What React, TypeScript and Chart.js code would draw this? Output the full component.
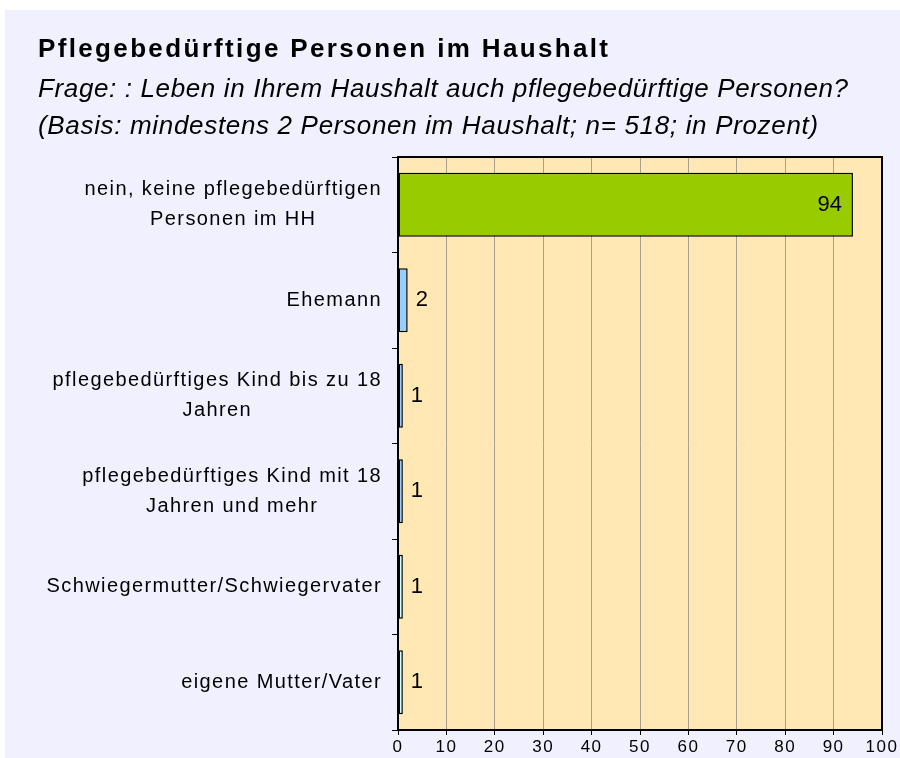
import React, { useEffect, useRef } from "react";
import { Chart, registerables } from "chart.js";

Chart.register(...registerables);

const titleText = "Pflegebedürftige Personen im Haushalt";
const subtitleLines = [
  "Frage: : Leben in Ihrem Haushalt auch pflegebedürftige Personen?",
  "(Basis: mindestens 2 Personen im Haushalt; n= 518; in Prozent)",
];

const categories: string[][] = [
  ["nein, keine pflegebedürftigen", "Personen im HH"],
  ["Ehemann"],
  ["pflegebedürftiges Kind bis zu 18", "Jahren"],
  ["pflegebedürftiges Kind mit 18", "Jahren und mehr"],
  ["Schwiegermutter/Schwiegervater"],
  ["eigene Mutter/Vater"],
];
const values = [94, 2, 1, 1, 1, 1];
const barColors = ["#99CC00", "#99CCFF", "#99CCFF", "#99CCFF", "#CCFFFF", "#CCFFFF"];
const xMin = 0;
const xMax = 100;
const xStep = 10;

const FONT = '"Liberation Sans", Arial, sans-serif';

function drawFitted(ctx: CanvasRenderingContext2D, text: string, x: number, y: number, font: string, width: number) {
  ctx.font = font;
  ctx.letterSpacing = "0px";
  const w0 = ctx.measureText(text).width;
  const sp = (width - w0) / Math.max(1, text.length - 1);
  ctx.letterSpacing = sp.toFixed(2) + "px";
  ctx.fillText(text, x, y);
  ctx.letterSpacing = "0px";
}

const decoPlugin = {
  id: "deco",
  beforeDraw(chart: any) {
    const ctx: CanvasRenderingContext2D = chart.ctx;
    const { width, height } = chart;
    ctx.save();
    ctx.fillStyle = "#ffffff";
    ctx.fillRect(0, 0, width, height);
    ctx.fillStyle = "#F0F0FF";
    ctx.fillRect(5, 10, width - 5, height - 10);
    const a = chart.chartArea;
    ctx.fillStyle = "#FFE8B3";
    ctx.fillRect(a.left, a.top, a.right - a.left, a.bottom - a.top);
    ctx.restore();
    ctx.letterSpacing = "1.5px";
  },
  afterDatasetsDraw(chart: any) {
    const ctx: CanvasRenderingContext2D = chart.ctx;
    const a = chart.chartArea;
    ctx.save();
    ctx.strokeStyle = "#000";
    ctx.lineWidth = 2;
    ctx.strokeRect(a.left, a.top, a.right - a.left, a.bottom - a.top);
    // value labels
    const meta = chart.getDatasetMeta(0);
    ctx.font = "22px " + FONT;
    ctx.fillStyle = "#000";
    ctx.textBaseline = "middle";
    ctx.letterSpacing = "0px";
    meta.data.forEach((bar: any, i: number) => {
      const v = values[i];
      if (v > 50) {
        ctx.textAlign = "right";
        ctx.fillText(String(v), bar.x - 11, bar.y);
      } else {
        ctx.textAlign = "left";
        ctx.fillText(String(v), bar.x + 8, bar.y);
      }
    });
    ctx.restore();
  },
  afterDraw(chart: any) {
    const ctx: CanvasRenderingContext2D = chart.ctx;
    ctx.save();
    ctx.fillStyle = "#000";
    ctx.textAlign = "left";
    ctx.textBaseline = "alphabetic";
    drawFitted(ctx, titleText, 38, 57, "bold 26px " + FONT, 570);
    drawFitted(ctx, subtitleLines[0], 38, 97, "italic 26px " + FONT, 810);
    drawFitted(ctx, subtitleLines[1], 38, 134, "italic 26px " + FONT, 780);

    // category labels
    const yScale = chart.scales.y;
    ctx.font = "20px " + FONT;
    ctx.letterSpacing = "1.4px";
    ctx.textAlign = "center";
    ctx.textBaseline = "middle";
    const rightEdge = yScale.right - 16;
    const lh = 30;
    categories.forEach((lines, i) => {
      const maxW = Math.max(...lines.map((l) => ctx.measureText(l).width));
      const cx = rightEdge - maxW / 2;
      const cy = yScale.getPixelForValue(i);
      lines.forEach((l, j) => {
        ctx.fillText(l, cx, cy - ((lines.length - 1) * lh) / 2 + j * lh);
      });
    });
    ctx.letterSpacing = "0px";
    ctx.restore();
  },
};

export default function App() {
  const ref = useRef<HTMLCanvasElement>(null);
  useEffect(() => {
    document.body.style.margin = "0";
    const canvas = ref.current!;
    const chart = new Chart(canvas, {
      type: "bar",
      data: {
        labels: categories.map((c) => c.join(" ")),
        datasets: [
          {
            data: values,
            backgroundColor: barColors,
            borderColor: "#000",
            borderWidth: 1.5,
            borderSkipped: false,
            barPercentage: 0.67,
            categoryPercentage: 1,
          },
        ],
      },
      options: {
        indexAxis: "y",
        animation: false,
        responsive: false,
        devicePixelRatio: 1,
        layout: { padding: { top: 157, right: 18, left: 0, bottom: 0 } },
        plugins: {
          legend: { display: false },
          tooltip: { enabled: false },
          title: { display: false },
        },
        scales: {
          x: {
            type: "linear",
            min: xMin,
            max: xMax,
            ticks: {
              stepSize: xStep,
              color: "#000",
              font: { family: FONT, size: 17 },
              padding: 2,
            },
            grid: {
              color: "#A8A090",
              lineWidth: 1,
              tickColor: "#000",
              tickLength: 5,
            },
            border: { display: false },
            afterFit: (s: any) => {
              s.height = 28;
            },
          },
          y: {
            type: "category",
            offset: true,
            ticks: { display: false },
            grid: {
              offset: true,
              drawOnChartArea: false,
              drawTicks: true,
              tickLength: 6,
              color: "#000",
              tickColor: "#000",
            },
            border: { display: false },
            afterFit: (s: any) => {
              s.width = 398;
            },
          },
        },
      },
      plugins: [decoPlugin],
    });
    return () => chart.destroy();
  }, []);
  return <canvas ref={ref} width={900} height={758} style={{ display: "block", width: 900, height: 758 }} />;
}
